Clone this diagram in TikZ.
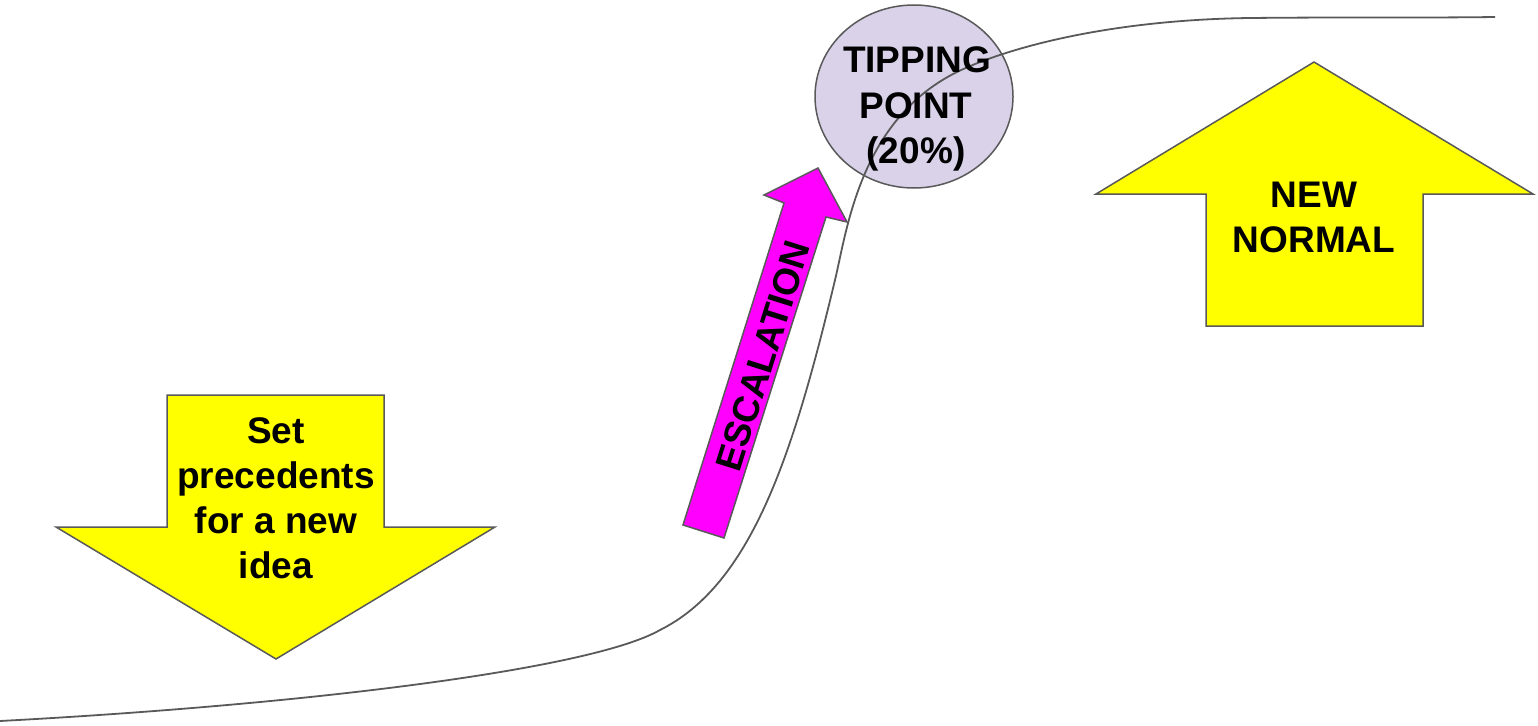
\documentclass[tikz,border=0pt]{standalone}
\usepackage{fontspec}
\setmainfont{Liberation Sans}
\usetikzlibrary{shapes.geometric}
\definecolor{edgegray}{HTML}{595959}
\definecolor{arrowyellow}{HTML}{FFFF00}
\definecolor{arrowmagenta}{HTML}{FF00FF}
\definecolor{tiplav}{HTML}{D9D2E9}
\tikzset{
  shapeline/.style={draw=edgegray, line width=1.5pt, line join=miter},
  lbl/.style={font=\fontsize{37}{44}\selectfont\bfseries, align=center, inner sep=0pt, text=black},
}
\begin{document}
\begin{tikzpicture}[x=1pt,y=-1pt]
\useasboundingbox (0,0) rectangle (1538,725);
% down arrow
\draw[shapeline, fill=arrowyellow] (167,395) -- (384,395) -- (384,527) -- (495,527) -- (276,659) -- (56,527) -- (167,527) -- cycle;
% up arrow
\draw[shapeline, fill=arrowyellow] (1314,62) -- (1533,194) -- (1423,194) -- (1423,326) -- (1206,326) -- (1206,194) -- (1096,194) -- cycle;
% magenta arrow
\draw[shapeline, fill=arrowmagenta] (683,525) -- (784,203) -- (764,195) -- (818,168) -- (847,222) -- (826,217) -- (724,538) -- cycle;
% circle
\node[shapeline, fill=tiplav, ellipse, minimum width=198pt, minimum height=183pt, inner sep=0pt] (tip) at (914,96.5) {};
% curve
\coordinate (c0) at (0,721);
\coordinate (c1) at (660,630);
\coordinate (c2) at (835,280);
\coordinate (c3) at (957,72);
\coordinate (c4) at (1250,18);
\coordinate (c5) at (1495,17);
\draw[draw=edgegray, line width=1.8pt]
  (c0) .. controls (300,705) and (590,670) .. (c1)
       .. controls (750,585) and (792,460) .. (c2)
       .. controls (847,230) and (860,120) .. (c3)
       .. controls (1000,51) and (1100,20) .. (c4)
       .. controls (1350,17) and (1420,18) .. (c5);
% labels
\node[lbl, anchor=base] (tipA) at (917,72) {TIPPING};
\node[lbl, anchor=base] (tipB) at (916,118) {POINT};
\node[lbl, anchor=base] (tipC) at (916,163) {(20\%)};
\node[lbl, anchor=base] (nn1) at (1314,207) {NEW};
\node[lbl, anchor=base] (nn2) at (1314,252) {NORMAL};
\node[lbl, anchor=base] (sp1) at (276,443) {Set};
\node[lbl, anchor=base] (sp2) at (276,488) {precedents};
\node[lbl, anchor=base] (sp3) at (276,533) {for a new};
\node[lbl, anchor=base] (sp4) at (276,578) {idea};
\node[lbl, rotate=72.5] (esc) at (763,356) {ESCALATION};
\end{tikzpicture}
\end{document}
